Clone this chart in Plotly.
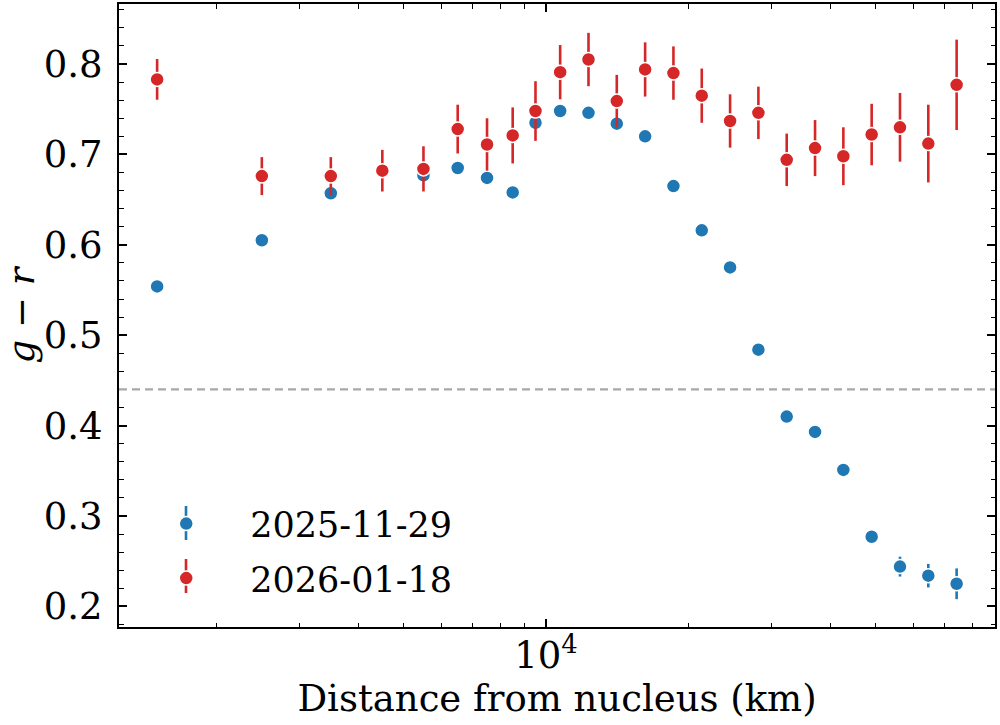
import plotly.graph_objects as go

# ---------------- data ----------------
dist_km = [1500, 2500, 3500, 4500, 5500, 6500, 7500, 8500, 9500,
           10715, 12303, 14125, 16218, 18621, 21380, 24547, 28184,
           32359, 37154, 42658, 48978, 56234, 64565, 74131]

gr_20251129 = [0.554, 0.605, 0.657, 0.681, 0.677, 0.685, 0.674, 0.658, 0.735,
               0.748, 0.746, 0.734, 0.720, 0.665, 0.616, 0.575, 0.484,
               0.410, 0.393, 0.351, 0.277, 0.244, 0.234, 0.225]
err_20251129 = [0.004, 0.004, 0.004, 0.004, 0.004, 0.004, 0.004, 0.004, 0.004,
                0.004, 0.004, 0.004, 0.004, 0.005, 0.005, 0.005, 0.005,
                0.005, 0.006, 0.006, 0.006, 0.011, 0.013, 0.017]

gr_20260118 = [0.783, 0.676, 0.676, 0.682, 0.684, 0.728, 0.711, 0.721, 0.748,
               0.791, 0.805, 0.759, 0.794, 0.790, 0.765, 0.737, 0.746,
               0.694, 0.707, 0.698, 0.722, 0.730, 0.712, 0.777]
err_20260118 = [0.0225, 0.021, 0.021, 0.023, 0.025, 0.027, 0.029, 0.031, 0.033,
                0.030, 0.0295, 0.029, 0.030, 0.0295, 0.030, 0.0295, 0.029,
                0.029, 0.031, 0.032, 0.034, 0.038, 0.043, 0.050]

series_names = ["2025-11-29", "2026-01-18"]
series_colors = ["#1f77b4", "#d62728"]

reference_gr = 0.44

x_tick_vals = [10000]
x_tick_text = ["10<sup>4</sup>"]
x_minor_vals = [2000, 3000, 4000, 5000, 6000, 7000, 8000, 9000,
                20000, 30000, 40000, 50000, 60000, 70000, 80000]

# ---------------- layout constants ----------------
W, H = 1000, 725
ML, MR, MT, MB = 119, 5, 4, 98
FONT = "DejaVu Serif"

fig = go.Figure()

for ys, es, name, col, grp in [
    (gr_20251129, err_20251129, series_names[0], series_colors[0], "a"),
    (gr_20260118, err_20260118, series_names[1], series_colors[1], "b"),
]:
    fig.add_trace(go.Scatter(
        x=dist_km, y=ys, mode="markers", name=name, legendgroup=grp,
        marker=dict(color=col, size=14, line=dict(color="white", width=1.5)),
        error_y=dict(type="data", array=es, visible=True, color=col,
                     thickness=2.6, width=0),
    ))

fig.add_hline(y=reference_gr, line=dict(color="#a8a8a8", width=2.2, dash="8px,5px"))

# legend error-bar glyphs (behind legend markers)
plot_w = W - ML - MR
plot_h = H - MT - MB
leg_marker_px_x = 186
leg_marker_px_y = [523, 576]
leg_half = 17
for py, col in zip(leg_marker_px_y, series_colors):
    xp = (leg_marker_px_x - ML) / plot_w
    y0 = (H - MB - (py + leg_half)) / plot_h
    y1 = (H - MB - (py - leg_half)) / plot_h
    fig.add_shape(type="line", xref="paper", yref="paper", x0=xp, x1=xp,
                  y0=y0, y1=y1, line=dict(color=col, width=2.6), layer="above")

axis_common = dict(
    showline=True, linewidth=2, linecolor="black", mirror="allticks",
    ticks="inside", ticklen=8, tickwidth=1.6, tickcolor="black",
    showgrid=False, zeroline=False, automargin=False,
    tickfont=dict(family=FONT, size=37, color="black"),
)

fig.update_layout(
    width=W, height=H,
    margin=dict(l=ML, r=MR, t=MT, b=MB, autoexpand=False),
    paper_bgcolor="white", plot_bgcolor="white",
    font=dict(family=FONT, color="black"),
    xaxis=dict(
        type="log", range=[3.0953, 4.9513],
        tickmode="array", tickvals=x_tick_vals, ticktext=x_tick_text,
        ticklabelstandoff=-5,
        minor=dict(tickmode="array", tickvals=x_minor_vals, ticks="inside",
                   ticklen=4.5, tickwidth=1.3, tickcolor="black", showgrid=False),
        title=dict(text="Distance from nucleus (km)",
                   font=dict(family=FONT, size=37), standoff=7),
        **axis_common,
    ),
    yaxis=dict(
        range=[0.1772, 0.8664], tick0=0, dtick=0.1, tickformat=".1f",
        ticklabelstandoff=7,
        minor=dict(dtick=0.02, ticks="inside", ticklen=4.5, tickwidth=1.3,
                   tickcolor="black", showgrid=False),
        title=dict(text="<i>g</i> − <i>r</i>",
                   font=dict(family=FONT, size=37), standoff=10),
        **axis_common,
    ),
    legend=dict(
        x=0.0037, y=0.213, xanchor="left", yanchor="top",
        bgcolor="rgba(0,0,0,0)", borderwidth=0,
        font=dict(family=FONT, size=35, color="black"),
        itemwidth=118, tracegroupgap=6, traceorder="grouped",
    ),
    showlegend=True,
)

fig.write_html("out.html", config={"displayModeBar": False},
               post_script="document.body.style.margin='0';document.body.style.padding='0';")
